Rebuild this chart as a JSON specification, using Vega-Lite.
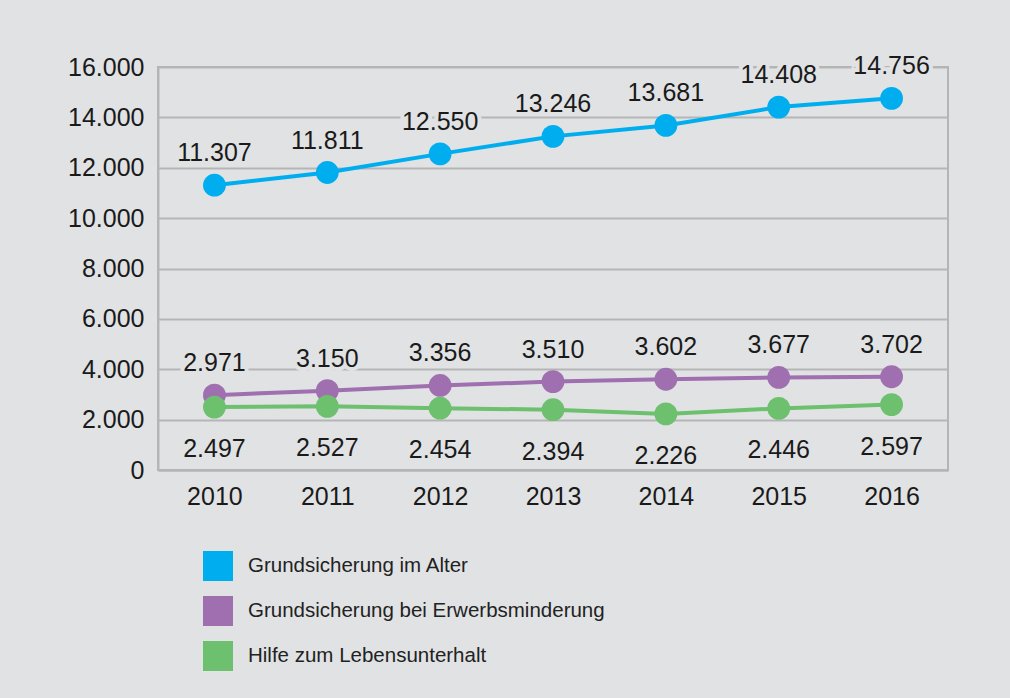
{
  "$schema": "https://vega.github.io/schema/vega-lite/v6.json",
  "width": 790,
  "height": 403,
  "autosize": {"type": "none"},
  "padding": {"left": 158, "top": 67, "right": 62, "bottom": 228},
  "background": "#e1e2e4",
  "config": {
    "locale": {"number": {"decimal": ",", "thousands": ".", "grouping": [3], "currency": ["", " €"]}},
    "font": "Liberation Sans",
    "view": {"stroke": "#b5b5b5", "strokeWidth": 2},
    "axis": {
      "gridColor": "#b5b5b5", "gridWidth": 2, "domainColor": "#b5b5b5", "domainWidth": 2,
      "ticks": false, "labelColor": "#1a1a1a", "labelFontSize": 25, "title": null
    }
  },
  "data": {
    "values": [
      {"year": "2010", "series": "Grundsicherung im Alter", "value": 11307},
      {"year": "2011", "series": "Grundsicherung im Alter", "value": 11811},
      {"year": "2012", "series": "Grundsicherung im Alter", "value": 12550},
      {"year": "2013", "series": "Grundsicherung im Alter", "value": 13246},
      {"year": "2014", "series": "Grundsicherung im Alter", "value": 13681},
      {"year": "2015", "series": "Grundsicherung im Alter", "value": 14408},
      {"year": "2016", "series": "Grundsicherung im Alter", "value": 14756},
      {"year": "2010", "series": "Grundsicherung bei Erwerbsminderung", "value": 2971},
      {"year": "2011", "series": "Grundsicherung bei Erwerbsminderung", "value": 3150},
      {"year": "2012", "series": "Grundsicherung bei Erwerbsminderung", "value": 3356},
      {"year": "2013", "series": "Grundsicherung bei Erwerbsminderung", "value": 3510},
      {"year": "2014", "series": "Grundsicherung bei Erwerbsminderung", "value": 3602},
      {"year": "2015", "series": "Grundsicherung bei Erwerbsminderung", "value": 3677},
      {"year": "2016", "series": "Grundsicherung bei Erwerbsminderung", "value": 3702},
      {"year": "2010", "series": "Hilfe zum Lebensunterhalt", "value": 2497},
      {"year": "2011", "series": "Hilfe zum Lebensunterhalt", "value": 2527},
      {"year": "2012", "series": "Hilfe zum Lebensunterhalt", "value": 2454},
      {"year": "2013", "series": "Hilfe zum Lebensunterhalt", "value": 2394},
      {"year": "2014", "series": "Hilfe zum Lebensunterhalt", "value": 2226},
      {"year": "2015", "series": "Hilfe zum Lebensunterhalt", "value": 2446},
      {"year": "2016", "series": "Hilfe zum Lebensunterhalt", "value": 2597}
    ]
  },
  "encoding": {
    "x": {
      "field": "year", "type": "ordinal",
      "scale": {"type": "point", "padding": 0.5},
      "axis": {"labelAngle": 0, "labelPadding": 14, "grid": false, "labelDx": 3}
    },
    "y": {
      "field": "value", "type": "quantitative",
      "scale": {"domain": [0, 16000], "nice": false},
      "axis": {"values": [0, 2000, 4000, 6000, 8000, 10000, 12000, 14000, 16000], "format": ",d", "labelPadding": 14}
    }
  },
  "layer": [
    {
      "mark": {"type": "line", "strokeWidth": 4},
      "encoding": {
        "color": {
          "field": "series", "type": "nominal",
          "scale": {
            "domain": ["Grundsicherung im Alter", "Grundsicherung bei Erwerbsminderung", "Hilfe zum Lebensunterhalt"],
            "range": ["#00aeef", "#9f6fb0", "#6cc06e"]
          }
        }
      }
    },
    {
      "mark": {"type": "circle", "size": 520, "opacity": 1},
      "encoding": {
        "color": {
          "field": "series", "type": "nominal",
          "legend": {
            "title": null, "orient": "none", "legendX": 45, "legendY": 484,
            "direction": "vertical", "symbolType": "square", "symbolSize": 900,
            "symbolStrokeWidth": 0, "symbolOpacity": 1, "rowPadding": 15, "labelOffset": 15,
            "labelFontSize": 20.5, "labelColor": "#222222", "labelLimit": 600
          }
        }
      }
    },
    {
      "transform": [{"filter": "datum.series !== 'Hilfe zum Lebensunterhalt'"}],
      "mark": {"type": "text", "fontSize": 25, "dy": -32, "stroke": "#e1e2e4", "strokeWidth": 8, "fill": "#e1e2e4"},
      "encoding": {"text": {"field": "value", "type": "quantitative", "format": ",d"}}
    },
    {
      "transform": [{"filter": "datum.series !== 'Hilfe zum Lebensunterhalt'"}],
      "mark": {"type": "text", "fontSize": 25, "dy": -32, "color": "#1a1a1a"},
      "encoding": {"text": {"field": "value", "type": "quantitative", "format": ",d"}}
    },
    {
      "transform": [{"filter": "datum.series === 'Hilfe zum Lebensunterhalt'"}],
      "mark": {"type": "text", "fontSize": 25, "dy": 42, "stroke": "#e1e2e4", "strokeWidth": 8, "fill": "#e1e2e4"},
      "encoding": {"text": {"field": "value", "type": "quantitative", "format": ",d"}}
    },
    {
      "transform": [{"filter": "datum.series === 'Hilfe zum Lebensunterhalt'"}],
      "mark": {"type": "text", "fontSize": 25, "dy": 42, "color": "#1a1a1a"},
      "encoding": {"text": {"field": "value", "type": "quantitative", "format": ",d"}}
    }
  ]
}
